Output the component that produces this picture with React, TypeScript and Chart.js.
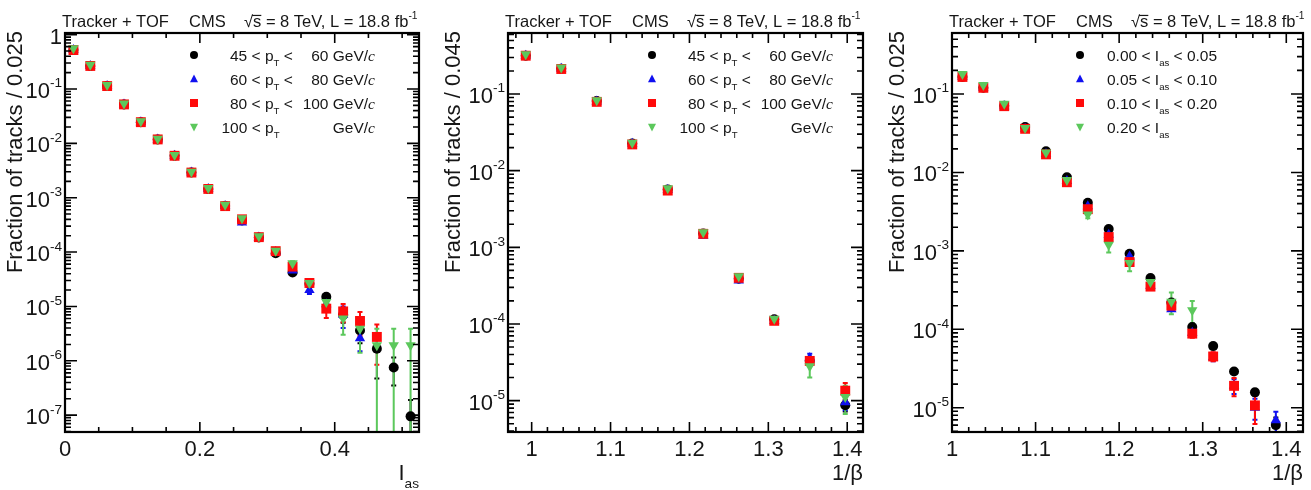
import React, { useEffect, useRef } from 'react';
import { Chart, registerables } from 'chart.js';

Chart.register(...registerables);

const WIDTH = 1311;
const HEIGHT = 490;

// ---------- Left panel: I_as distribution in p_T bins ----------
const iasBinCenters = [0.0125, 0.0375, 0.0625, 0.0875, 0.1125, 0.1375, 0.1625, 0.1875, 0.2125, 0.2375, 0.2625, 0.2875, 0.3125, 0.3375, 0.3625, 0.3875, 0.4125, 0.4375, 0.4625, 0.4875, 0.5125];
const iasPt45 = [0.52, 0.265, 0.113, 0.052, 0.0245, 0.0118, 0.0059, 0.0029, 0.00145, 0.0007, 0.00038, 0.000185, 9.5e-5, 4.2e-5, 2.6e-5, 1.5e-5, 7e-6, 3.6e-6, 1.67e-6, 7.5e-7, 9.5e-8];
const iasPt45Err = [0, 0, 0, 0, 0, 0, 0, 0, 0, 0, 0, 0, 0, 0, 2e-6, 2e-6, 2e-6, 1.5e-6, 1.2e-6, 4e-7, 9.5e-8];
const iasPt60 = [0.52, 0.265, 0.113, 0.052, 0.0245, 0.0118, 0.0059, 0.0029, 0.00145, 0.0007, 0.00035, 0.000185, 1.0e-4, 4.6e-5, 2.0e-5, 1.1e-5, 7e-6, 2.6e-6, null, null, null];
const iasPt60Err = [0, 0, 0, 0, 0, 0, 0, 0, 0, 0, 0, 0, 0, 0, 3e-6, 3e-6, 3e-6, 1.1e-6, 0, 0, 0];
const iasPt80 = [0.52, 0.265, 0.113, 0.052, 0.0245, 0.0118, 0.0059, 0.0029, 0.00145, 0.0007, 0.0004, 0.000188, 1.04e-4, 5.4e-5, 2.7e-5, 9.1e-6, 8.1e-6, 5.4e-6, 2.75e-6, null, null];
const iasPt80Err = [0, 0, 0, 0, 0, 0, 0, 0, 0, 0, 0, 0, 0, 4e-6, 4e-6, 3e-6, 3e-6, 2.5e-6, 1.9e-6, 0, 0];
const iasPt100 = [0.56, 0.28, 0.118, 0.054, 0.0255, 0.0122, 0.0061, 0.003, 0.0015, 0.00074, 0.00042, 0.000195, 1.06e-4, 6.2e-5, 2.7e-5, 1.2e-5, 6e-6, 3.9e-6, 1.94e-6, 1.94e-6, 1.94e-6];
const iasPt100Err = [0, 0, 0, 0, 0, 0, 0, 0, 0, 0, 0, 0, 0, 6e-6, 5e-6, 4e-6, 3e-6, 2.5e-6, 1.94e-6, 1.94e-6, 1.94e-6];

// ---------- Middle panel: 1/beta distribution in p_T bins ----------
const betaBinCenters = [0.9925, 1.0375, 1.0825, 1.1275, 1.1725, 1.2175, 1.2625, 1.3075, 1.3525, 1.3975];
const betaPt45 = [0.316, 0.214, 0.081, 0.0226, 0.0057, 0.00152, 0.00039, 1.15e-4, 3.3e-5, 8.7e-6];
const betaPt45Err = [0, 0, 0, 0, 0, 0, 0, 3e-6, 3e-6, 1.5e-6];
const betaPt60 = [0.316, 0.214, 0.08, 0.0224, 0.0056, 0.00142, 0.00037, 1.1e-4, 3.6e-5, 9.5e-6];
const betaPt60Err = [0, 0, 0, 0, 0, 0, 0, 3e-6, 5e-6, 2e-6];
const betaPt80 = [0.316, 0.212, 0.079, 0.022, 0.0055, 0.0015, 0.0004, 1.1e-4, 3.3e-5, 1.35e-5];
const betaPt80Err = [0, 0, 0, 0, 0, 0, 0, 3e-6, 4e-6, 3.5e-6];
const betaPt100 = [0.33, 0.222, 0.083, 0.0232, 0.0059, 0.00157, 0.00042, 1.17e-4, 2.8e-5, 1.12e-5];
const betaPt100Err = [0, 0, 0, 0, 0, 0, 0, 4e-6, 8e-6, 4.5e-6];

// ---------- Right panel: 1/beta distribution in I_as bins ----------
const betaIasBinCenters = [1.0125, 1.0375, 1.0625, 1.0875, 1.1125, 1.1375, 1.1625, 1.1875, 1.2125, 1.2375, 1.2625, 1.2875, 1.3125, 1.3375, 1.3625, 1.3875];
const betaIas000 = [0.165, 0.12, 0.071, 0.038, 0.0186, 0.0087, 0.0041, 0.0019, 0.00092, 0.00045, 0.00022, 0.000107, 6.1e-5, 2.9e-5, 1.57e-5, 6e-6];
const betaIas000Err = [0, 0, 0, 0, 0, 0, 0, 0, 0, 0, 0, 0, 3e-6, 2e-6, 1.5e-6, 1.5e-6];
const betaIas005 = [0.165, 0.12, 0.07, 0.036, 0.0172, 0.0078, 0.0037, 0.0016, 0.00085, 0.00036, 0.00018, 9e-5, 4.4e-5, 1.9e-5, 1.0e-5, 6.9e-6];
const betaIas005Err = [0, 0, 0, 0, 0, 0, 0, 0, 0, 0, 0, 0, 5e-6, 4e-6, 3e-6, 2e-6];
const betaIas010 = [0.165, 0.12, 0.07, 0.036, 0.017, 0.0075, 0.0034, 0.0015, 0.00072, 0.00035, 0.0002, 8.8e-5, 4.5e-5, 1.9e-5, 1.07e-5, null];
const betaIas010Err = [0, 0, 0, 0, 0, 0, 0, 0, 0, 0, 2e-5, 1e-5, 6e-6, 5e-6, 4.5e-6, 0];
const betaIas020 = [0.18, 0.13, 0.075, 0.037, 0.018, 0.008, 0.0029, 0.0012, 0.0007, 0.0004, 0.000225, 0.000175, null, null, null, null];
const betaIas020Err = [0, 0, 0, 0, 0, 0, 3e-4, 2.5e-4, 1.5e-4, 8e-5, 7e-5, 5.5e-5, 0, 0, 0, 0];

// Axis tick labels
const iasMajorTicks = [0, 0.2, 0.4];
const iasMajorLabels = ['0', '0.2', '0.4'];
const betaMajorTicks = [1, 1.1, 1.2, 1.3, 1.4];
const betaMajorLabels = ['1', '1.1', '1.2', '1.3', '1.4'];
const iasDecades = [0, -1, -2, -3, -4, -5, -6, -7];
const betaDecades = [-1, -2, -3, -4, -5];

type Seg = { t: string; sub?: boolean; sup?: boolean; it?: boolean; over?: boolean };
type MarkerStyle = 'circle' | 'triUp' | 'square' | 'triDown';

interface Series {
  x: number[];
  y: (number | null)[];
  err: number[];
  color: string;
  marker: MarkerStyle;
}

interface LegendRow {
  left: Seg[];
  leftX: number;
  right?: Seg[];
}

interface Panel {
  frame: { left: number; top: number; right: number; bottom: number };
  xMin: number;
  xMax: number;
  yMin: number;
  yMax: number;
  xMajor: number[];
  xLabels: string[];
  xMinorStep: number;
  yDecades: number[];
  yTitle: string;
  yTitleX: number;
  xTitle: Seg[];
  series: Series[];
  legendMarkerX: number;
  legendRightX: number;
  legendRows: LegendRow[];
}

const BLACK = '#000000';
const BLUE = '#1010f0';
const RED = '#ff0a0a';
const GREEN = '#5cc85c';
const TEXT = '#161616';
const FONT = '"Liberation Sans", Arial, Helvetica, sans-serif';

const legendRowY = [55, 79, 103, 127];

const ptLegend = (x0: number): LegendRow[] => [
  { left: [{ t: '45 < p' }, { t: 'T', sub: true }, { t: ' <' }], leftX: x0, right: [{ t: '60 GeV/' }, { t: 'c', it: true }] },
  { left: [{ t: '60 < p' }, { t: 'T', sub: true }, { t: ' <' }], leftX: x0, right: [{ t: '80 GeV/' }, { t: 'c', it: true }] },
  { left: [{ t: '80 < p' }, { t: 'T', sub: true }, { t: ' <' }], leftX: x0, right: [{ t: '100 GeV/' }, { t: 'c', it: true }] },
  { left: [{ t: '100 < p' }, { t: 'T', sub: true }], leftX: x0 - 8.5, right: [{ t: 'GeV/' }, { t: 'c', it: true }] },
];

const iasLegend = (x0: number): LegendRow[] => [
  { left: [{ t: '0.00 < I' }, { t: 'as', sub: true }, { t: ' < 0.05' }], leftX: x0 },
  { left: [{ t: '0.05 < I' }, { t: 'as', sub: true }, { t: ' < 0.10' }], leftX: x0 },
  { left: [{ t: '0.10 < I' }, { t: 'as', sub: true }, { t: ' < 0.20' }], leftX: x0 },
  { left: [{ t: '0.20 < I' }, { t: 'as', sub: true }], leftX: x0 },
];

const panels: Panel[] = [
  {
    frame: { left: 65, top: 33, right: 419, bottom: 432 },
    xMin: 0, xMax: 0.525, yMin: 4.9e-8, yMax: 1.07,
    xMajor: iasMajorTicks, xLabels: iasMajorLabels, xMinorStep: 0.05,
    yDecades: iasDecades,
    yTitle: 'Fraction of tracks / 0.025', yTitleX: 16,
    xTitle: [{ t: 'I' }, { t: 'as', sub: true }],
    series: [
      { x: iasBinCenters, y: iasPt45, err: iasPt45Err, color: BLACK, marker: 'circle' },
      { x: iasBinCenters, y: iasPt60, err: iasPt60Err, color: BLUE, marker: 'triUp' },
      { x: iasBinCenters, y: iasPt80, err: iasPt80Err, color: RED, marker: 'square' },
      { x: iasBinCenters, y: iasPt100, err: iasPt100Err, color: GREEN, marker: 'triDown' },
    ],
    legendMarkerX: 194, legendRightX: 375, legendRows: ptLegend(230),
  },
  {
    frame: { left: 508, top: 33, right: 863, bottom: 432 },
    xMin: 0.97, xMax: 1.42, yMin: 3.9e-6, yMax: 0.625,
    xMajor: betaMajorTicks, xLabels: betaMajorLabels, xMinorStep: 0.02,
    yDecades: betaDecades,
    yTitle: 'Fraction of tracks / 0.045', yTitleX: 453.5,
    xTitle: [{ t: '1/β' }],
    series: [
      { x: betaBinCenters, y: betaPt45, err: betaPt45Err, color: BLACK, marker: 'circle' },
      { x: betaBinCenters, y: betaPt60, err: betaPt60Err, color: BLUE, marker: 'triUp' },
      { x: betaBinCenters, y: betaPt80, err: betaPt80Err, color: RED, marker: 'square' },
      { x: betaBinCenters, y: betaPt100, err: betaPt100Err, color: GREEN, marker: 'triDown' },
    ],
    legendMarkerX: 652, legendRightX: 833, legendRows: ptLegend(688),
  },
  {
    frame: { left: 952, top: 33, right: 1303, bottom: 432 },
    xMin: 1.0, xMax: 1.42, yMin: 4.9e-6, yMax: 0.6,
    xMajor: betaMajorTicks, xLabels: betaMajorLabels, xMinorStep: 0.02,
    yDecades: betaDecades,
    yTitle: 'Fraction of tracks / 0.025', yTitleX: 897.5,
    xTitle: [{ t: '1/β' }],
    series: [
      { x: betaIasBinCenters, y: betaIas000, err: betaIas000Err, color: BLACK, marker: 'circle' },
      { x: betaIasBinCenters, y: betaIas005, err: betaIas005Err, color: BLUE, marker: 'triUp' },
      { x: betaIasBinCenters, y: betaIas010, err: betaIas010Err, color: RED, marker: 'square' },
      { x: betaIasBinCenters, y: betaIas020, err: betaIas020Err, color: GREEN, marker: 'triDown' },
    ],
    legendMarkerX: 1080, legendRightX: 0, legendRows: iasLegend(1107),
  },
];

// ---------- text helpers ----------
function setFont(ctx: CanvasRenderingContext2D, size: number, italic?: boolean) {
  ctx.font = italic ? `italic ${size}px "Liberation Serif", "Times New Roman", serif` : `${size}px ${FONT}`;
}

function segSize(s: Seg, size: number) {
  return s.sub || s.sup ? size * 0.62 : size;
}

function richWidth(ctx: CanvasRenderingContext2D, segs: Seg[], size: number) {
  let w = 0;
  for (const s of segs) {
    setFont(ctx, segSize(s, size), s.it);
    w += ctx.measureText(s.t).width;
  }
  return w;
}

function drawRich(ctx: CanvasRenderingContext2D, segs: Seg[], x: number, y: number, size: number, align: 'left' | 'right' | 'center') {
  const w = richWidth(ctx, segs, size);
  let cx = align === 'left' ? x : align === 'right' ? x - w : x - w / 2;
  ctx.textAlign = 'left';
  ctx.textBaseline = 'alphabetic';
  for (const s of segs) {
    const sz = segSize(s, size);
    setFont(ctx, sz, s.it);
    const dy = s.sub ? size * 0.36 : s.sup ? -size * 0.48 : 0;
    ctx.fillText(s.t, cx, y + dy);
    const sw = ctx.measureText(s.t).width;
    if (s.over) {
      ctx.save();
      ctx.lineWidth = 1.2;
      ctx.strokeStyle = ctx.fillStyle as string;
      ctx.beginPath();
      ctx.moveTo(cx - 1, y - size * 0.7);
      ctx.lineTo(cx + sw, y - size * 0.7);
      ctx.stroke();
      ctx.restore();
    }
    cx += sw;
  }
}

function drawMarker(ctx: CanvasRenderingContext2D, style: MarkerStyle, x: number, y: number, s: number, color: string) {
  ctx.fillStyle = color;
  ctx.beginPath();
  if (style === 'circle') {
    ctx.arc(x, y, s / 2, 0, Math.PI * 2);
  } else if (style === 'square') {
    ctx.rect(x - s / 2, y - s / 2, s, s);
  } else if (style === 'triUp') {
    ctx.moveTo(x, y - s * 0.55);
    ctx.lineTo(x + s / 2, y + s * 0.4);
    ctx.lineTo(x - s / 2, y + s * 0.4);
  } else {
    ctx.moveTo(x, y + s * 0.55);
    ctx.lineTo(x + s / 2, y - s * 0.4);
    ctx.lineTo(x - s / 2, y - s * 0.4);
  }
  ctx.closePath();
  ctx.fill();
}

const pointStyleFor: Record<MarkerStyle, { pointStyle: string; radius: number; rotation: number }> = {
  circle: { pointStyle: 'circle', radius: 5, rotation: 0 },
  triUp: { pointStyle: 'triangle', radius: 6, rotation: 0 },
  square: { pointStyle: 'rect', radius: 7, rotation: 0 },
  triDown: { pointStyle: 'triangle', radius: 6, rotation: 180 },
};

function makePlugins(panel: Panel) {
  const errorBars = {
    id: 'errorBars',
    beforeDatasetsDraw(chart: any) {
      const ctx: CanvasRenderingContext2D = chart.ctx;
      const xs = chart.scales.x;
      const ys = chart.scales.y;
      const area = chart.chartArea;
      ctx.save();
      ctx.beginPath();
      ctx.rect(area.left, area.top, area.right - area.left, area.bottom - area.top);
      ctx.clip();
      ctx.lineWidth = 2;
      for (const s of panel.series) {
        ctx.strokeStyle = s.color;
        s.y.forEach((v, i) => {
          const e = s.err[i];
          if (v == null || !e) return;
          const px = xs.getPixelForValue(s.x[i]);
          const hi = ys.getPixelForValue(v + e);
          const lo = v - e > 0 ? ys.getPixelForValue(v - e) : area.bottom + 2;
          ctx.beginPath();
          ctx.moveTo(px, hi);
          ctx.lineTo(px, lo);
          ctx.moveTo(px - 2.5, hi);
          ctx.lineTo(px + 2.5, hi);
          ctx.moveTo(px - 2.5, lo);
          ctx.lineTo(px + 2.5, lo);
          ctx.stroke();
        });
      }
      ctx.restore();
    },
  };

  const frame = {
    id: 'rootFrame',
    afterDraw(chart: any) {
      const ctx: CanvasRenderingContext2D = chart.ctx;
      const xs = chart.scales.x;
      const ys = chart.scales.y;
      const { left, top, right, bottom } = chart.chartArea;
      ctx.save();
      ctx.strokeStyle = '#000';
      ctx.fillStyle = TEXT;

      // ticks on all four sides
      ctx.lineWidth = 1.6;
      ctx.beginPath();
      const step = panel.xMinorStep;
      const kStart = Math.ceil(panel.xMin / step - 1e-9);
      const kEnd = Math.floor(panel.xMax / step + 1e-9);
      for (let k = kStart; k <= kEnd; k++) {
        const v = Math.round(k * step * 1e9) / 1e9;
        const isMajor = panel.xMajor.some((m) => Math.abs(m - v) < 1e-9);
        const len = isMajor ? 10 : 5;
        const px = xs.getPixelForValue(v);
        ctx.moveTo(px, bottom);
        ctx.lineTo(px, bottom - len);
        ctx.moveTo(px, top);
        ctx.lineTo(px, top + len);
      }
      const eLo = Math.floor(Math.log10(panel.yMin));
      const eHi = Math.ceil(Math.log10(panel.yMax));
      for (let e = eLo; e <= eHi; e++) {
        for (let m = 1; m <= 9; m++) {
          const v = m * Math.pow(10, e);
          if (v < panel.yMin || v > panel.yMax) continue;
          const py = ys.getPixelForValue(v);
          const len = m === 1 ? 12 : 6;
          ctx.moveTo(left, py);
          ctx.lineTo(left + len, py);
          ctx.moveTo(right, py);
          ctx.lineTo(right - len, py);
        }
      }
      ctx.stroke();

      // frame
      ctx.lineWidth = 2.2;
      ctx.strokeRect(left, top, right - left, bottom - top);

      // x tick labels
      setFont(ctx, 22);
      ctx.textAlign = 'center';
      ctx.textBaseline = 'alphabetic';
      panel.xMajor.forEach((v, i) => {
        ctx.fillText(panel.xLabels[i], xs.getPixelForValue(v), bottom + 24);
      });

      // y tick labels
      for (const e of panel.yDecades) {
        const py = ys.getPixelForValue(Math.pow(10, e));
        const segs: Seg[] = e === 0 ? [{ t: '1' }] : [{ t: '10' }, { t: String(e).replace('-', '-'), sup: true }];
        drawRich(ctx, segs, left - 3, py + 9, 22, 'right');
      }

      // axis titles
      drawRich(ctx, panel.xTitle, right, 480, 22, 'right');
      ctx.save();
      ctx.translate(panel.yTitleX, top - 2);
      ctx.rotate(-Math.PI / 2);
      setFont(ctx, 22);
      ctx.textAlign = 'right';
      ctx.textBaseline = 'middle';
      ctx.fillText(panel.yTitle, 0, 0);
      ctx.restore();

      // header line
      drawRich(ctx, [{ t: 'Tracker + TOF' }], left - 3, 27, 16.5, 'left');
      drawRich(ctx, [{ t: 'CMS' }], left + 124, 27, 16.5, 'left');
      drawRich(
        ctx,
        [{ t: '√' }, { t: 's', over: true }, { t: ' = 8 TeV, L = 18.8 fb' }, { t: '-1', sup: true }],
        left + 179,
        27,
        16.5,
        'left'
      );

      // legend
      panel.legendRows.forEach((row, i) => {
        const cy = legendRowY[i];
        const s = panel.series[i];
        drawMarker(ctx, s.marker, panel.legendMarkerX, cy, 8, s.color);
        ctx.fillStyle = TEXT;
        drawRich(ctx, row.left, row.leftX, cy + 5.5, 15.5, 'left');
        if (row.right) drawRich(ctx, row.right, panel.legendRightX, cy + 5.5, 15.5, 'right');
      });

      ctx.restore();
    },
  };
  return [errorBars, frame];
}

function PanelChart({ panel }: { panel: Panel }) {
  const ref = useRef<HTMLCanvasElement>(null);

  useEffect(() => {
    const canvas = ref.current;
    if (!canvas) return;
    const datasets = panel.series.map((s, idx) => {
      const st = pointStyleFor[s.marker];
      const data = s.y
        .map((v, i) => (v == null ? null : { x: s.x[i], y: v }))
        .filter((p) => p !== null) as { x: number; y: number }[];
      return {
        data,
        showLine: false,
        pointStyle: st.pointStyle,
        pointRadius: st.radius,
        pointRotation: st.rotation,
        pointBackgroundColor: s.color,
        pointBorderColor: s.color,
        pointBorderWidth: 0,
        // later series sit on top of earlier ones
        order: panel.series.length - idx,
      };
    });
    const { left, top, right, bottom } = panel.frame;
    const chart = new Chart(canvas, {
      type: 'scatter',
      data: { datasets: datasets as any },
      options: {
        responsive: false,
        devicePixelRatio: 1,
        animation: false,
        events: [],
        layout: { padding: { left, top, right: WIDTH - right, bottom: HEIGHT - bottom } },
        plugins: { legend: { display: false }, tooltip: { enabled: false } },
        scales: {
          x: { type: 'linear', min: panel.xMin, max: panel.xMax, display: false },
          y: { type: 'logarithmic', min: panel.yMin, max: panel.yMax, display: false },
        },
      },
      plugins: makePlugins(panel) as any,
    });
    return () => chart.destroy();
  }, [panel]);

  return (
    <canvas
      ref={ref}
      width={WIDTH}
      height={HEIGHT}
      style={{ position: 'absolute', left: 0, top: 0, width: WIDTH, height: HEIGHT }}
    />
  );
}

export default function App() {
  return (
    <div style={{ position: 'absolute', left: 0, top: 0, width: WIDTH, height: HEIGHT, background: '#fff', overflow: 'hidden' }}>
      {panels.map((p, i) => (
        <PanelChart key={i} panel={p} />
      ))}
    </div>
  );
}
